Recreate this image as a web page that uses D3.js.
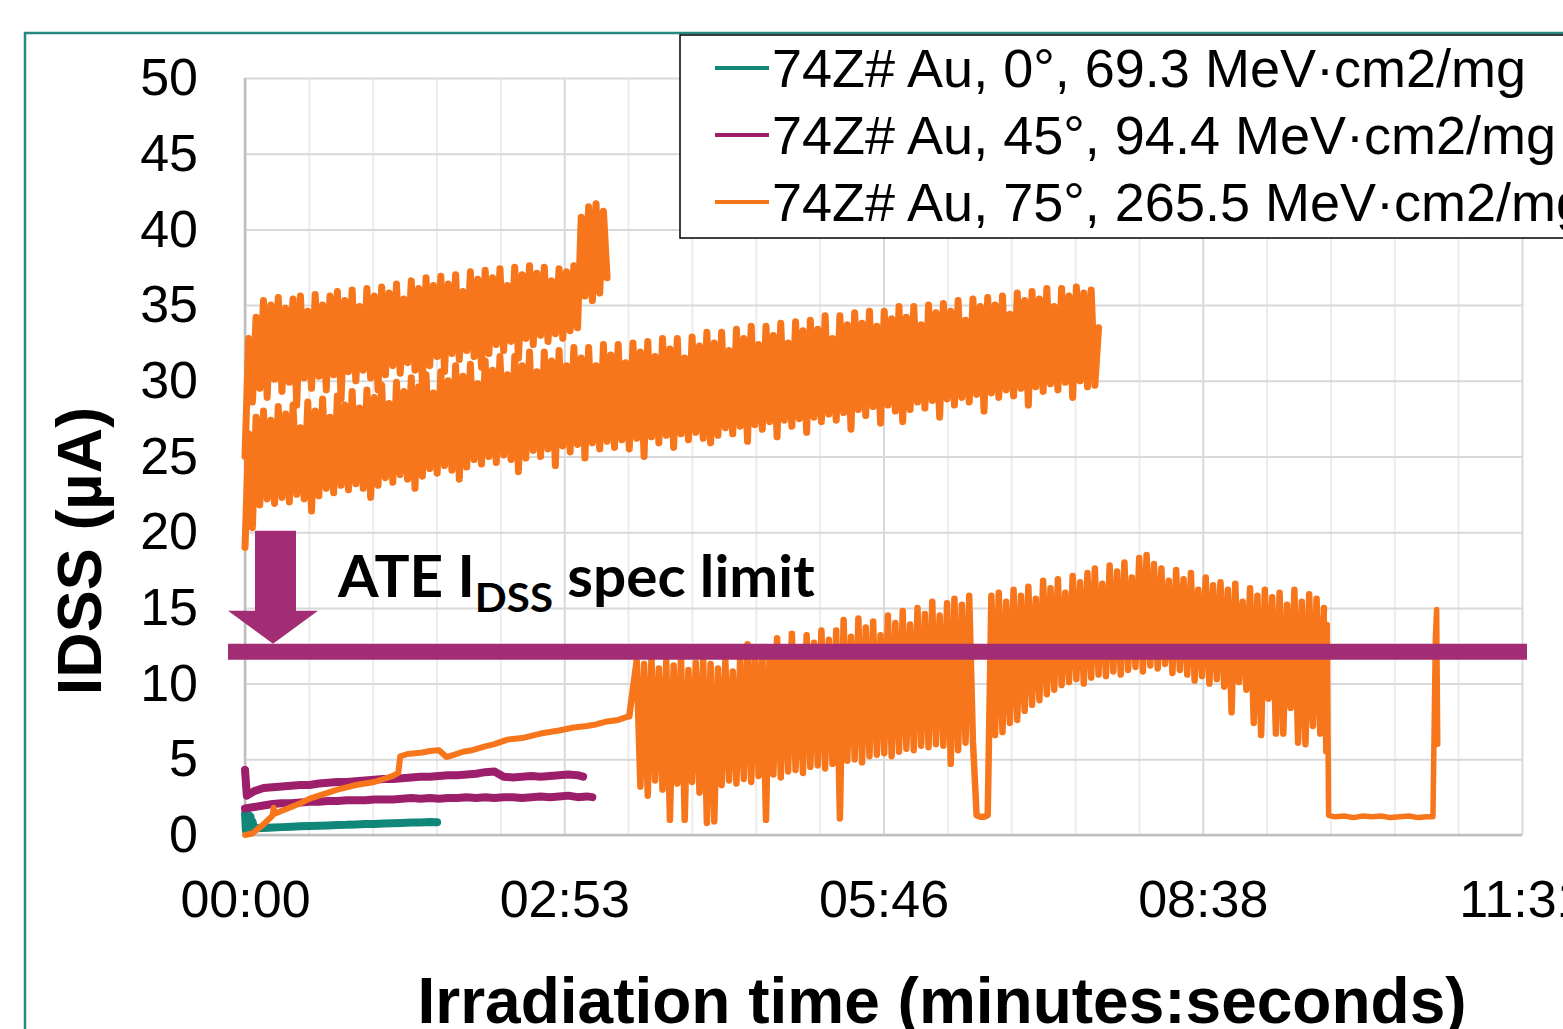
<!DOCTYPE html>
<html>
<head>
<meta charset="utf-8">
<script src="https://cdn.jsdelivr.net/npm/d3@7/dist/d3.min.js"></script>
<style>
  html, body { margin: 0; padding: 0; background: #fff; overflow: hidden; }
  svg { display: block; }
  text { white-space: pre; }
</style>
</head>
<body>
<svg id="chart" width="1563" height="1029"></svg>
<script>
/* global d3 */
// ---------------- data (time in seconds, IDSS in µA) ----------------
const seriesNames = [
  "74Z# Au, 0°, 69.3 MeV·cm2/mg",
  "74Z# Au, 45°, 94.4 MeV·cm2/mg",
  "74Z# Au, 75°, 265.5 MeV·cm2/mg"
];
const seriesColors = ["#108778", "#9d1f6c", "#f7761b"];

const timeTicks = [0, 172.8, 345.6, 518.4, 691.2];
const timeTickLabels = ["00:00", "02:53", "05:46", "08:38", "11:31"];
const idssTicks = [0, 5, 10, 15, 20, 25, 30, 35, 40, 45, 50];
const specLimit = 12.1;

// 0° run
const tealTime = [0, 0.5, 1, 1.5, 2, 2.5, 3, 3.5, 4, 5, 10, 15, 20, 25, 30, 35, 40, 45, 50, 55, 60, 65, 70, 75, 80, 85, 90, 95, 100, 104];
const tealIdss = [1.4, 0.3, 1.5, 0.35, 1.3, 0.3, 1.2, 0.4, 0.9, 0.45, 0.47, 0.5, 0.52, 0.55, 0.57, 0.6, 0.61, 0.63, 0.66, 0.67, 0.7, 0.72, 0.73, 0.76, 0.78, 0.8, 0.82, 0.83, 0.86, 0.85];

// 45° runs
const purpleATime = [0, 1, 5, 10, 15, 20, 25, 30, 35, 40, 45, 50, 55, 60, 65, 70, 75, 80, 85, 90, 95, 100, 105, 110, 115, 120, 125, 130, 135, 140, 145, 150, 155, 160, 165, 170, 175, 180, 183];
const purpleAIdss = [4.3, 2.6, 2.9, 3.1, 3.15, 3.2, 3.25, 3.3, 3.3, 3.4, 3.45, 3.5, 3.5, 3.55, 3.6, 3.65, 3.7, 3.7, 3.75, 3.8, 3.85, 3.85, 3.9, 3.95, 3.95, 4.0, 4.05, 4.15, 4.2, 3.85, 3.8, 3.85, 3.9, 3.85, 3.9, 3.95, 4.0, 3.95, 3.85];
const purpleBTime = [0, 5, 10, 15, 20, 25, 30, 35, 40, 45, 50, 55, 60, 65, 70, 75, 80, 85, 90, 95, 100, 105, 110, 115, 120, 125, 130, 135, 140, 145, 150, 155, 160, 165, 170, 175, 180, 185, 188];
const purpleBIdss = [1.75, 1.85, 1.95, 2.05, 2.1, 2.1, 2.15, 2.2, 2.2, 2.25, 2.25, 2.3, 2.3, 2.3, 2.35, 2.35, 2.35, 2.4, 2.45, 2.4, 2.45, 2.4, 2.45, 2.45, 2.5, 2.45, 2.5, 2.45, 2.5, 2.5, 2.45, 2.5, 2.55, 2.5, 2.55, 2.6, 2.5, 2.55, 2.5];

// 75° runs, logged every 2 s
const sampleStep = 2;
const orangeAIdss = [25.0,
  32.8, 28.6, 34.2, 29.5, 35.3, 28.9, 35.0, 30.1, 35.5, 29.3,
  34.8, 29.9, 35.4, 28.4, 35.6, 30.2, 34.6, 29.5, 35.7, 30.3,
  35.0, 29.4, 35.6, 30.4, 35.9, 28.8, 35.3, 30.6, 36.0, 30.0,
  34.9, 30.7, 36.1, 30.2, 35.6, 29.4, 36.2, 30.4, 35.8, 31.0,
  36.4, 30.5, 35.4, 31.2, 36.6, 30.7, 36.1, 29.9, 36.8, 31.0,
  36.3, 31.6, 36.9, 30.6, 36.4, 31.8, 37.0, 31.4, 35.9, 32.0,
  37.2, 31.6, 36.7, 30.9, 37.3, 31.8, 36.8, 32.4, 37.4, 32.0,
  36.3, 32.6, 37.5, 31.5, 37.0, 32.8, 37.6, 32.4, 37.1, 33.0,
  37.5, 32.6, 36.6, 33.1, 37.4, 32.8, 37.2, 33.3, 37.6, 33.5,
  40.8, 35.6, 41.5, 35.3, 41.7, 35.8, 41.2, 36.8];

const orangeBIdss = [
  19.0, 26.5, 20.3, 27.6, 21.8, 28.0, 22.2, 27.4, 21.9, 28.3,
  22.3, 27.8, 22.0, 28.4, 22.5, 26.9, 22.2, 28.6, 21.4, 28.0,
  22.4, 28.8, 22.9, 27.6, 22.6, 29.0, 23.1, 28.4, 22.8, 29.3,
  23.2, 28.2, 22.9, 29.4, 22.3, 28.9, 23.1, 29.7, 23.6, 28.5,
  23.3, 29.9, 23.8, 29.3, 23.5, 30.2, 22.9, 29.6, 23.7, 30.4,
  24.2, 29.2, 23.9, 30.6, 24.4, 30.0, 24.1, 31.0, 23.5, 30.3,
  24.3, 31.1, 24.8, 29.8, 24.5, 31.3, 25.0, 30.7, 24.6, 31.6,
  25.1, 30.4, 24.8, 31.6, 24.0, 31.0, 24.9, 31.9, 25.4, 30.6,
  25.0, 31.9, 25.5, 31.3, 24.4, 32.0, 25.7, 31.0, 25.3, 32.2,
  25.8, 31.5, 24.9, 32.2, 25.9, 31.0, 25.5, 32.4, 26.0, 31.7,
  25.6, 32.4, 26.1, 31.2, 25.5, 32.5, 26.2, 31.9, 25.0, 32.6,
  26.3, 31.6, 25.9, 32.8, 26.4, 32.1, 25.6, 32.8, 26.5, 31.5,
  26.1, 32.9, 26.6, 32.3, 26.2, 33.2, 25.9, 32.5, 26.4, 33.2,
  26.9, 32.0, 26.5, 33.4, 27.0, 32.8, 26.0, 33.6, 27.1, 32.4,
  26.8, 33.6, 27.3, 33.0, 26.3, 33.8, 27.4, 32.5, 27.0, 33.9,
  27.5, 33.3, 26.6, 34.0, 27.6, 33.4, 27.3, 34.3, 27.8, 32.8,
  27.4, 34.3, 27.9, 33.7, 26.8, 34.5, 28.1, 33.8, 27.7, 34.6,
  28.3, 33.6, 27.2, 34.6, 28.4, 34.1, 28.0, 34.9, 27.3, 34.2,
  28.1, 34.9, 28.6, 33.7, 28.2, 35.0, 28.7, 34.5, 27.6, 35.1,
  28.8, 34.6, 28.4, 35.3, 28.9, 34.0, 28.6, 35.4, 29.1, 34.9,
  28.0, 35.5, 29.2, 35.0, 28.9, 35.6, 29.4, 34.4, 29.0, 35.8,
  29.5, 35.3, 28.4, 35.9, 29.6, 35.4, 29.3, 36.1, 29.8, 34.9,
  29.4, 36.1, 29.9, 35.6, 28.9, 36.2, 30.0, 35.8, 29.6, 36.0,
  29.7, 33.5];

const orangeCRampTime = [0, 4, 10, 15, 15.5, 16, 20, 25, 30, 35, 40, 45, 50, 55, 60, 65, 70, 75, 80, 83, 84, 88, 92, 96, 100, 105, 109, 113, 118, 123, 130, 135, 142, 150, 160, 170, 178, 185, 190, 196, 202, 208];
const orangeCRampIdss = [0, 0.1, 0.7, 1.3, 1.8, 1.4, 1.6, 1.85, 2.1, 2.4, 2.6, 2.8, 3.0, 3.15, 3.3, 3.4, 3.5, 3.7, 3.9, 4.1, 5.2, 5.35, 5.4, 5.45, 5.55, 5.6, 5.15, 5.3, 5.5, 5.6, 5.85, 6.0, 6.3, 6.4, 6.7, 6.9, 7.1, 7.2, 7.3, 7.5, 7.6, 7.85];
const orangeCBurstStart = 212;
const orangeCBurstIdss = [
  11.5, 3.2, 11.3, 2.6, 11.6, 3.6, 11.0, 3.0, 11.5, 1.0,
  11.2, 3.4, 11.7, 1.0, 10.9, 3.5, 11.4, 2.8, 11.6, 0.8,
  11.3, 0.9, 11.0, 3.3, 11.5, 3.6, 10.8, 3.4, 11.6, 3.7,
  12.6, 3.5, 12.0, 3.9, 12.3, 1.0, 12.2, 4.0, 13.0, 3.8,
  12.4, 4.2, 13.3, 4.3, 12.0, 4.1, 13.2, 4.5, 12.7, 4.6,
  13.5, 4.4, 12.9, 4.7, 13.5, 1.1, 14.2, 4.9, 13.1, 5.0,
  14.3, 4.8, 13.7, 5.2, 14.1, 5.3, 13.2, 5.4, 14.5, 5.2,
  14.0, 5.5, 14.8, 5.7, 13.9, 5.6, 15.0, 5.9, 14.6, 5.8,
  15.4, 6.0, 14.5, 5.9, 15.3, 4.7, 15.6, 5.6, 15.2, 6.1,
  15.8, 6.2, 1.3, 1.2, 1.2, 1.3, 15.8, 6.6, 16.0, 6.8,
  15.4, 7.4, 16.2, 7.6, 15.8, 8.2, 16.4, 8.6, 15.6, 8.9,
  16.8, 9.3, 16.3, 9.6, 16.9, 9.9, 16.0, 10.1, 17.1, 10.3,
  16.7, 10.0, 17.3, 10.4, 17.6, 10.6, 16.6, 10.5, 17.8, 10.8,
  17.4, 10.6, 18.0, 10.9, 17.0, 11.1, 18.3, 10.8, 18.5, 11.2,
  17.9, 11.0, 17.6, 11.3, 16.8, 10.7, 17.5, 10.9, 16.9, 10.6,
  17.3, 10.2, 16.2, 10.5, 17.0, 10.0, 16.5, 10.3, 16.7, 9.8,
  16.2, 8.1, 16.6, 10.1, 15.4, 9.6, 16.3, 7.4, 15.8, 6.6,
  16.2, 9.0, 15.7, 6.7, 16.0, 6.7, 15.2, 8.4, 16.2, 6.1,
  15.4, 6.0, 15.9, 7.2, 15.6, 6.7, 15.0];
const orangeCTailTime = [585, 585.8, 586.5, 590, 595, 600, 605, 610, 615, 620, 625, 630, 635, 640, 643, 644.3, 645, 645.6];
const orangeCTailIdss = [5.5, 13.9, 1.3, 1.2, 1.25, 1.15, 1.25, 1.2, 1.25, 1.15, 1.2, 1.25, 1.15, 1.2, 1.2, 13.0, 14.9, 6.0];

// ---------------- helpers ----------------
const paired = (times, values) => times.map((t, i) => ({ t, v: values[i] }));
const sampled = (t0, values) => values.map((v, i) => ({ t: t0 + i * sampleStep, v }));

// the third 75° run is one series, drawn in pieces so the fast bursts get a heavier pen
const cRamp = paired(orangeCRampTime, orangeCRampIdss);
const cBurst = sampled(orangeCBurstStart, orangeCBurstIdss);
const cTail = paired(orangeCTailTime, orangeCTailIdss);

const runs = [
  { color: 0, width: 8, pts: paired(tealTime, tealIdss) },
  { color: 1, width: 8, pts: paired(purpleBTime, purpleBIdss) },
  { color: 1, width: 8, pts: paired(purpleATime, purpleAIdss) },
  { color: 2, width: 6, pts: cRamp },
  { color: 2, width: 7, pts: sampled(0, orangeBIdss) },
  { color: 2, width: 7, pts: sampled(0, orangeAIdss) },
  { color: 2, width: 6.5, pts: [cRamp[cRamp.length - 1]].concat(cBurst) },
  { color: 2, width: 5.5, pts: [cBurst[cBurst.length - 1]].concat(cTail) }
];

// ---------------- layout ----------------
const W = 1563, H = 1029;
const plot = { left: 245, right: 1522, top: 78, bottom: 835 };
const arial = "'Liberation Sans', Arial, sans-serif";

const svg = d3.select("#chart");
svg.append("rect").attr("width", W).attr("height", H).attr("fill", "#fff");

// chart area border (runs off the picture on the right / bottom)
svg.append("rect")
  .attr("x", 25).attr("y", 33).attr("width", 1700).attr("height", 1200)
  .attr("fill", "none").attr("stroke", "#27897d").attr("stroke-width", 2.5);

const x = d3.scaleLinear().domain([0, 691.2]).range([plot.left, plot.right]);
const y = d3.scaleLinear().domain([0, 50]).range([plot.bottom, plot.top]);
const plotW = plot.right - plot.left;
const plotH = plot.bottom - plot.top;

// ---- gridlines ----
const minorTicks = d3.range(0, 691.3, 34.56).filter(t => !timeTicks.some(m => Math.abs(m - t) < 1));
const grid = (axis, color) => (g) => {
  g.call(axis);
  g.select(".domain").remove();
  g.selectAll(".tick line").attr("stroke", color).attr("stroke-width", 2);
};
svg.append("g")
  .attr("transform", `translate(0,${plot.bottom})`)
  .call(grid(d3.axisBottom(x).tickValues(minorTicks).tickSize(-plotH).tickFormat(""), "#ececec"));
svg.append("g")
  .attr("transform", `translate(0,${plot.bottom})`)
  .call(grid(d3.axisBottom(x).tickValues(timeTicks).tickSize(-plotH).tickFormat(""), "#d9d9d9"));
svg.append("g")
  .attr("transform", `translate(${plot.left},0)`)
  .call(grid(d3.axisLeft(y).tickValues(idssTicks).tickSize(-plotW).tickFormat(""), "#d9d9d9"));

// axis lines
svg.append("line")
  .attr("x1", plot.left).attr("x2", plot.left).attr("y1", plot.top).attr("y2", plot.bottom)
  .attr("stroke", "#bfbfbf").attr("stroke-width", 2.5);
svg.append("line")
  .attr("x1", plot.left).attr("x2", plot.right).attr("y1", plot.bottom).attr("y2", plot.bottom)
  .attr("stroke", "#bfbfbf").attr("stroke-width", 2.5);

// ---- tick labels ----
const yAxis = svg.append("g")
  .attr("transform", `translate(${plot.left},0)`)
  .call(d3.axisLeft(y).tickValues(idssTicks).tickSize(0).tickPadding(47));
const xAxis = svg.append("g")
  .attr("transform", `translate(0,${plot.bottom})`)
  .call(d3.axisBottom(x).tickValues(timeTicks).tickFormat((d, i) => timeTickLabels[i]).tickSize(0).tickPadding(45));
[yAxis, xAxis].forEach(g => {
  g.select(".domain").remove();
  g.selectAll("text").attr("font-family", arial).attr("font-size", 52).attr("fill", "#000");
});

// ---- series ----
const line = d3.line().x(d => x(d.t)).y(d => y(d.v));
svg.append("g")
  .selectAll("path")
  .data(runs)
  .join("path")
    .attr("d", d => line(d.pts))
    .attr("fill", "none")
    .attr("stroke", d => seriesColors[d.color])
    .attr("stroke-width", d => d.width)
    .attr("stroke-linejoin", "round")
    .attr("stroke-linecap", "round");

// ---- spec limit band + arrow ----
const limitColor = "#a22d74";
const ly = y(specLimit);
svg.append("line")
  .attr("x1", plot.left - 17).attr("x2", plot.right + 5)
  .attr("y1", ly).attr("y2", ly)
  .attr("stroke", limitColor).attr("stroke-width", 16);
const ax = plot.left + 28, tipY = ly - 8;
svg.append("path")
  .attr("d", `M${ax - 18},${y(20.1)} H${ax + 23} V${tipY - 33} H${ax + 45} L${ax},${tipY} L${ax - 45},${tipY - 33} H${ax - 18} Z`)
  .attr("fill", limitColor);

const ate = svg.append("text")
  .attr("font-family", "Lato, 'Open Sans', sans-serif")
  .attr("font-weight", 700)
  .attr("font-size", 57)
  .attr("fill", "#000");
ate.append("tspan").text("ATE I");
ate.append("tspan").attr("font-size", 41).attr("dy", 15).text("DSS");
ate.append("tspan").attr("dy", -15).text(" spec limit");
const ateW = ate.node().getComputedTextLength();
ate.attr("transform", `translate(338,597) scale(${477 / ateW},1)`);

// ---- axis titles ----
svg.append("text")
  .attr("transform", "translate(101,551) rotate(-90)")
  .attr("text-anchor", "middle")
  .attr("font-family", arial).attr("font-weight", 700).attr("font-size", 63)
  .text("IDSS (µA)");
svg.append("text")
  .attr("x", 942).attr("y", 1023)
  .attr("text-anchor", "middle")
  .attr("font-family", arial).attr("font-weight", 700).attr("font-size", 64)
  .text("Irradiation time (minutes:seconds)");

// ---- legend ----
const legend = svg.append("g");
legend.append("rect")
  .attr("x", 680).attr("y", 35).attr("width", 1000).attr("height", 203)
  .attr("fill", "#fff").attr("stroke", "#000").attr("stroke-width", 1.5);
const rows = legend.selectAll("g.row")
  .data(seriesNames)
  .join("g")
    .attr("class", "row")
    .attr("transform", (d, i) => `translate(0,${87 + i * 67})`);
rows.append("line")
  .attr("x1", 715).attr("x2", 769).attr("y1", -19).attr("y2", -19)
  .attr("stroke", (d, i) => seriesColors[i]).attr("stroke-width", 4);
rows.append("text")
  .attr("x", 772)
  .attr("font-family", arial).attr("font-size", 54).attr("fill", "#000")
  .text(d => d);
</script>
</body>
</html>
